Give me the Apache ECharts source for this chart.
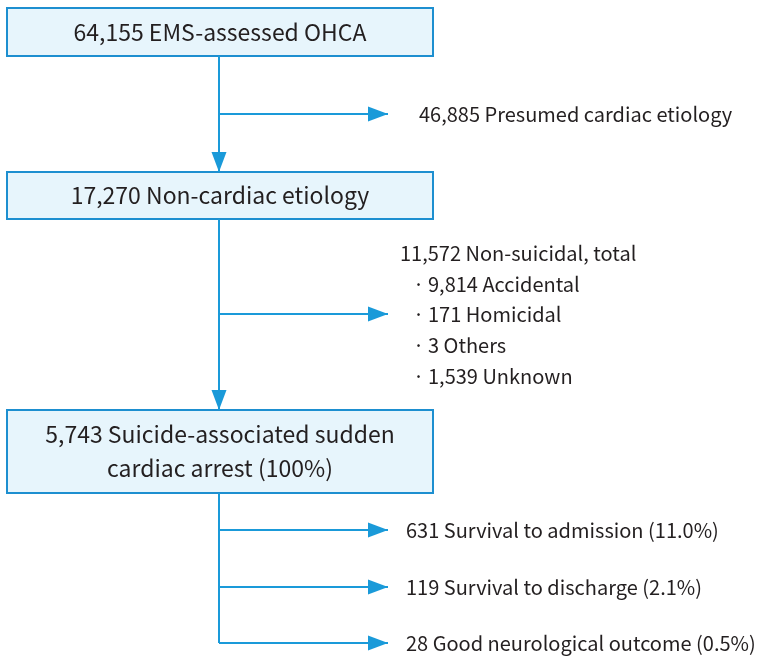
<!DOCTYPE html>
<html>
<head>
<meta charset="utf-8">
<script src="https://cdn.jsdelivr.net/npm/echarts@6/dist/echarts.min.js"></script>
<style>html,body{margin:0;padding:0;background:#fff}#main{width:764px;height:663px}</style>
</head>
<body>
<div id="main"></div>
<script>
// ---- data ----
const boxCounts = [64155, 17270, 5743];
const boxLabels = ['EMS-assessed OHCA', 'Non-cardiac etiology', 'Suicide-associated sudden\ncardiac arrest (100%)'];
const excludedCount = 46885;
const excludedLabel = 'Presumed cardiac etiology';
const nonSuicidalTotal = 11572;
const nonSuicidalLabel = 'Non-suicidal, total';
const nonSuicidalCats = ['Accidental', 'Homicidal', 'Others', 'Unknown'];
const nonSuicidalCounts = [9814, 171, 3, 1539];
const outcomeLabels = ['Survival to admission', 'Survival to discharge', 'Good neurological outcome'];
const outcomeCounts = [631, 119, 28];
const outcomePercents = [11.0, 2.1, 0.5];

const fmt = n => n.toLocaleString('en-US');

// ---- layout (positions in pixel-like axis units) ----
const L = {
  boxes: [[7, 8, 433, 56], [7, 172, 433, 219], [7, 410, 433, 493]],
  trunkX: 219,
  branch1: { y: 114, tip: 388, textX: 419 },
  branch2: { y: 314, tip: 388, headX: 400, headY: 253, bulletX: 413, itemX: 428, itemY: [284, 314, 345, 376] },
  outcome: { y: [530, 587, 643], tip: 388, textX: 406 },
  arrowLen: 20, arrowHalf: 7.5
};
const FONT = '"Noto Sans CJK KR", "Noto Sans", sans-serif';
const boxFontSize = 23, sideFontSize = 20;
const lineColor = '#1a9ad9', boxStroke = '#1d8fd0', boxFill = '#e7f5fc', textColor = '#231f20';

// build element lists
const boxItems = boxCounts.map((c, i) => ({ text: fmt(c) + ' ' + boxLabels[i], rect: L.boxes[i] }));
const segs = [];   // [x1,y1,x2,y2]
const heads = [];  // [tipX, tipY, dir]
segs.push([L.trunkX, L.boxes[0][3], L.trunkX, L.boxes[1][1]]); heads.push([L.trunkX, L.boxes[1][1], 'down']);
segs.push([L.trunkX, L.boxes[1][3], L.trunkX, L.boxes[2][1]]); heads.push([L.trunkX, L.boxes[2][1], 'down']);
segs.push([L.trunkX, L.boxes[2][3], L.trunkX, L.outcome.y[L.outcome.y.length - 1]]);
segs.push([L.trunkX, L.branch1.y, L.branch1.tip, L.branch1.y]); heads.push([L.branch1.tip, L.branch1.y, 'right']);
segs.push([L.trunkX, L.branch2.y, L.branch2.tip, L.branch2.y]); heads.push([L.branch2.tip, L.branch2.y, 'right']);
L.outcome.y.forEach(y => { segs.push([L.trunkX, y, L.outcome.tip, y]); heads.push([L.outcome.tip, y, 'right']); });

const texts = []; // [x, y, text, align]
texts.push([L.branch1.textX, L.branch1.y, fmt(excludedCount) + ' ' + excludedLabel, 'left']);
texts.push([L.branch2.headX, L.branch2.headY, fmt(nonSuicidalTotal) + ' ' + nonSuicidalLabel, 'left']);
nonSuicidalCats.forEach((c, i) => {
  texts.push([L.branch2.bulletX, L.branch2.itemY[i], '·', 'left']);
  texts.push([L.branch2.itemX, L.branch2.itemY[i], fmt(nonSuicidalCounts[i]) + ' ' + c, 'left']);
});
outcomeLabels.forEach((c, i) => {
  texts.push([L.outcome.textX, L.outcome.y[i], fmt(outcomeCounts[i]) + ' ' + c + ' (' + outcomePercents[i].toFixed(1) + '%)', 'left']);
});

const chart = echarts.init(document.getElementById('main'), null, { renderer: 'canvas' });
chart.setOption({
  animation: false,
  grid: { left: 0, right: 0, top: 0, bottom: 0 },
  xAxis: { type: 'value', min: 0, max: 764, show: false },
  yAxis: { type: 'value', min: 0, max: 663, inverse: true, show: false },
  series: [
    {
      type: 'custom', coordinateSystem: 'cartesian2d',
      data: boxItems.map((b, i) => [i]),
      renderItem: (params, api) => {
        const b = boxItems[api.value(0)];
        const p0 = api.coord([b.rect[0], b.rect[1]]);
        const p1 = api.coord([b.rect[2], b.rect[3]]);
        return {
          type: 'group',
          children: [
            { type: 'rect', shape: { x: p0[0], y: p0[1], width: p1[0] - p0[0], height: p1[1] - p0[1] },
              style: { fill: boxFill, stroke: boxStroke, lineWidth: 2 } },
            { type: 'text', style: { text: b.text, x: (p0[0] + p1[0]) / 2, y: (p0[1] + p1[1]) / 2,
              align: 'center', verticalAlign: 'middle', fill: textColor,
              font: boxFontSize + 'px ' + FONT, lineHeight: 34 } }
          ]
        };
      }
    },
    {
      type: 'custom', coordinateSystem: 'cartesian2d',
      data: segs,
      renderItem: (params, api) => {
        const a = api.coord([api.value(0), api.value(1)]);
        const b = api.coord([api.value(2), api.value(3)]);
        return { type: 'line', shape: { x1: a[0], y1: a[1], x2: b[0], y2: b[1] },
          style: { stroke: lineColor, lineWidth: 2 } };
      }
    },
    {
      type: 'custom', coordinateSystem: 'cartesian2d',
      data: heads.map(h => [h[0], h[1], h[2] === 'down' ? 1 : 0]),
      renderItem: (params, api) => {
        const t = api.coord([api.value(0), api.value(1)]);
        const down = api.value(2) === 1;
        const len = L.arrowLen, hw = L.arrowHalf;
        const pts = down
          ? [[t[0], t[1]], [t[0] - hw, t[1] - len], [t[0] + hw, t[1] - len]]
          : [[t[0], t[1]], [t[0] - len, t[1] - hw], [t[0] - len, t[1] + hw]];
        return { type: 'polygon', shape: { points: pts }, style: { fill: lineColor } };
      }
    },
    {
      type: 'custom', coordinateSystem: 'cartesian2d',
      data: texts.map((t, i) => [t[0], t[1], i]),
      renderItem: (params, api) => {
        const t = texts[api.value(2)];
        const p = api.coord([t[0], t[1]]);
        return { type: 'text', style: { text: t[2], x: p[0], y: p[1], align: t[3], verticalAlign: 'middle',
          fill: textColor, font: sideFontSize + 'px ' + FONT } };
      }
    }
  ]
});
</script>
</body>
</html>
